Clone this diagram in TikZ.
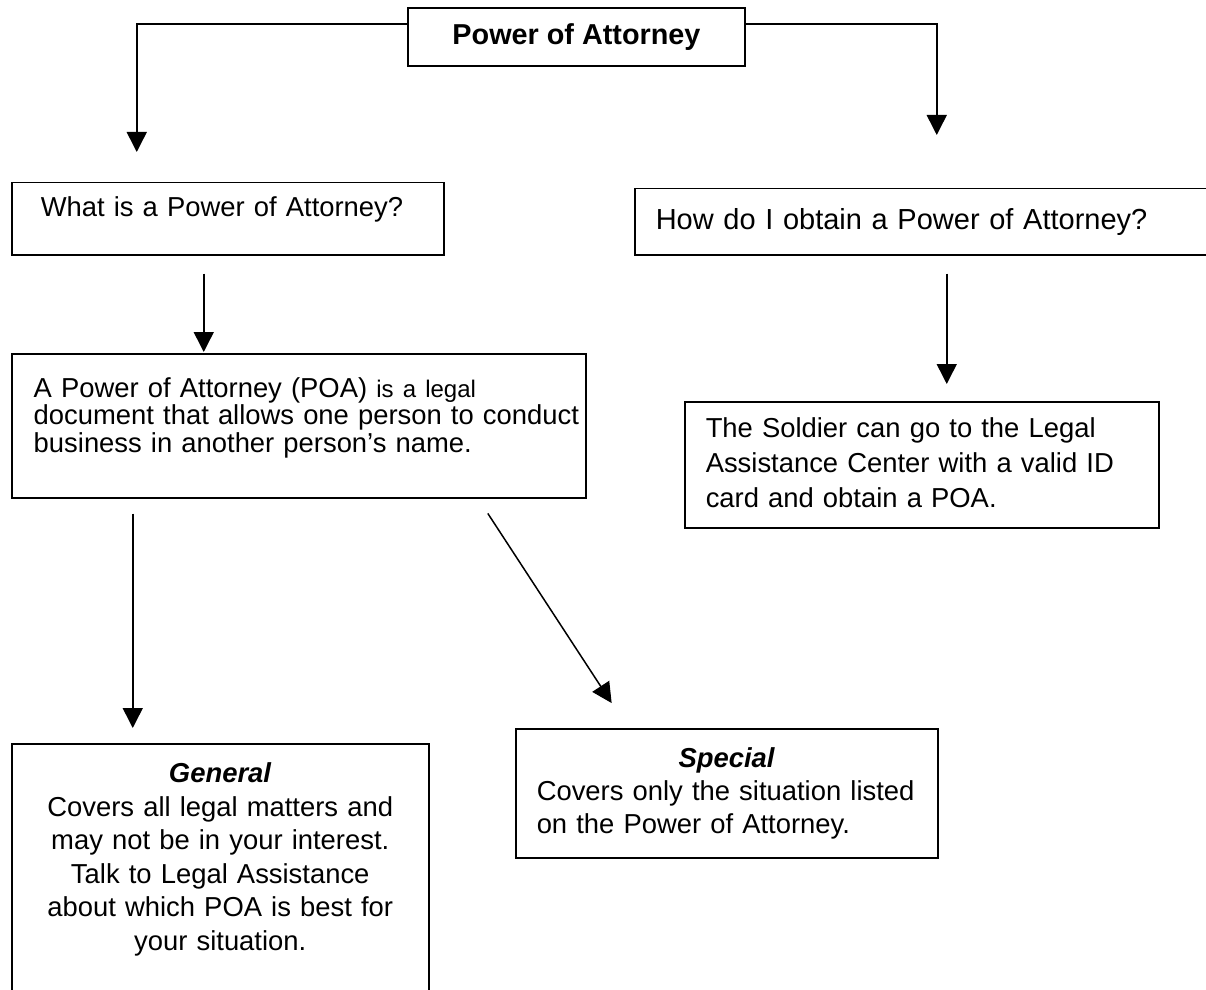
\documentclass[tikz,border=0pt]{standalone}
\usepackage{fontspec}
\setmainfont{Liberation Sans}
\usepackage{tikz}
\usetikzlibrary{arrows.meta}
\hyphenpenalty = 10000
\tikzstyle{box} = [rectangle, draw = black, line width = 0.75pt, anchor = north west, align = left, inner xsep = 10.5pt, inner ysep = 0pt, font = \fontsize{13.7}{16.5}\selectfont]
\tikzstyle{title} = [rectangle, draw = black, line width = 0.75pt, minimum width = 168.5pt, minimum height = 29pt, font = \fontsize{14.4}{16}\selectfont\bfseries]
\tikzstyle{post} = [-{Triangle[length = 10pt, width = 10pt]}, line width = 0.75pt]

\begin{document}
\begin{tikzpicture}[x = 0.5pt, y = -0.5pt]
        \clip (0,0) rectangle (1206,990);
        % draw nodes
        \node[title] (poa) at (576.5,37) {Power of Attorney};
        \node[box, inner xsep = 14.5pt, text width = 187pt, text height = 17pt, text depth = 19pt] (what) at (11,182)
            {What is a Power of Attorney?};
        \node[box, text width = 269.5pt, text height = 20.5pt, text depth = 12.5pt, font = \fontsize{14.5}{16.5}\selectfont] (how) at (634,188)
            {How do I obtain a Power of Attorney?};
        \node[box, inner xsep = 11pt, text width = 265pt, text height = 21.8pt, text depth = 50.2pt, font = \fontsize{13.7}{13.75}\selectfont] (meaning) at (11,353)
            {A Power of Attorney (POA) {\fontsize{12}{13.75}\selectfont is a legal}\\
             \mbox{document that allows one person to conduct}\\
             business in another person’s name.};
        \node[box, text width = 216pt, text height = 17.75pt, text depth = 45.25pt, font = \fontsize{13.7}{17.6}\selectfont] (soldier) at (684,401)
            {The Soldier can go to the Legal\\
             Assistance Center with a valid ID\\
             card and obtain a POA.};
        \node[box, text width = 187.5pt, text height = 19.5pt, text depth = 135pt, align = center, font = \fontsize{13.7}{16.75}\selectfont] (general) at (11,743)
            {\textbf{\textit{General}}\\
             Covers all legal matters and\\
             may not be in your interest.\\
             Talk to Legal Assistance\\
             about which POA is best for\\
             your situation.};
        \node[box, text width = 190pt, text height = 19.5pt, text depth = 45pt] (special) at (515,728)
            {\hspace*{\fill}\textbf{\textit{Special}}\hspace*{\fill}\null\\
             Covers only the situation listed\\
             on the Power of Attorney.};
        % draw arrows
        \draw[post, shorten >= 15pt] ([yshift = 6.5pt]poa.west) -| ([xshift = -45.5pt]what.north);
        \draw[post, shorten >= 26.5pt] ([yshift = 6.5pt]poa.east) -| ([xshift = 5.75pt]how.north);
        \draw[post, shorten <= 9pt, shorten >= 0.5pt] ([xshift = -12pt]what.south) -- ([xshift = -12pt]what.south |- meaning.north);
        \draw[post, shorten <= 9pt, shorten >= 8.5pt] ([xshift = 10.75pt]how.south) -- ([xshift = 10.75pt]how.south |- soldier.north);
        \draw[post, shorten <= 7.5pt, shorten >= 7.5pt] ([xshift = -83pt]meaning.south) -- ([xshift = -83pt]meaning.south |- general.north);
        \draw[post, shorten <= 8.9pt, shorten >= 14.9pt] ([xshift = 89.65pt]meaning.south) -- ([xshift = -49.4pt]special.north);
\end{tikzpicture}
\end{document}
